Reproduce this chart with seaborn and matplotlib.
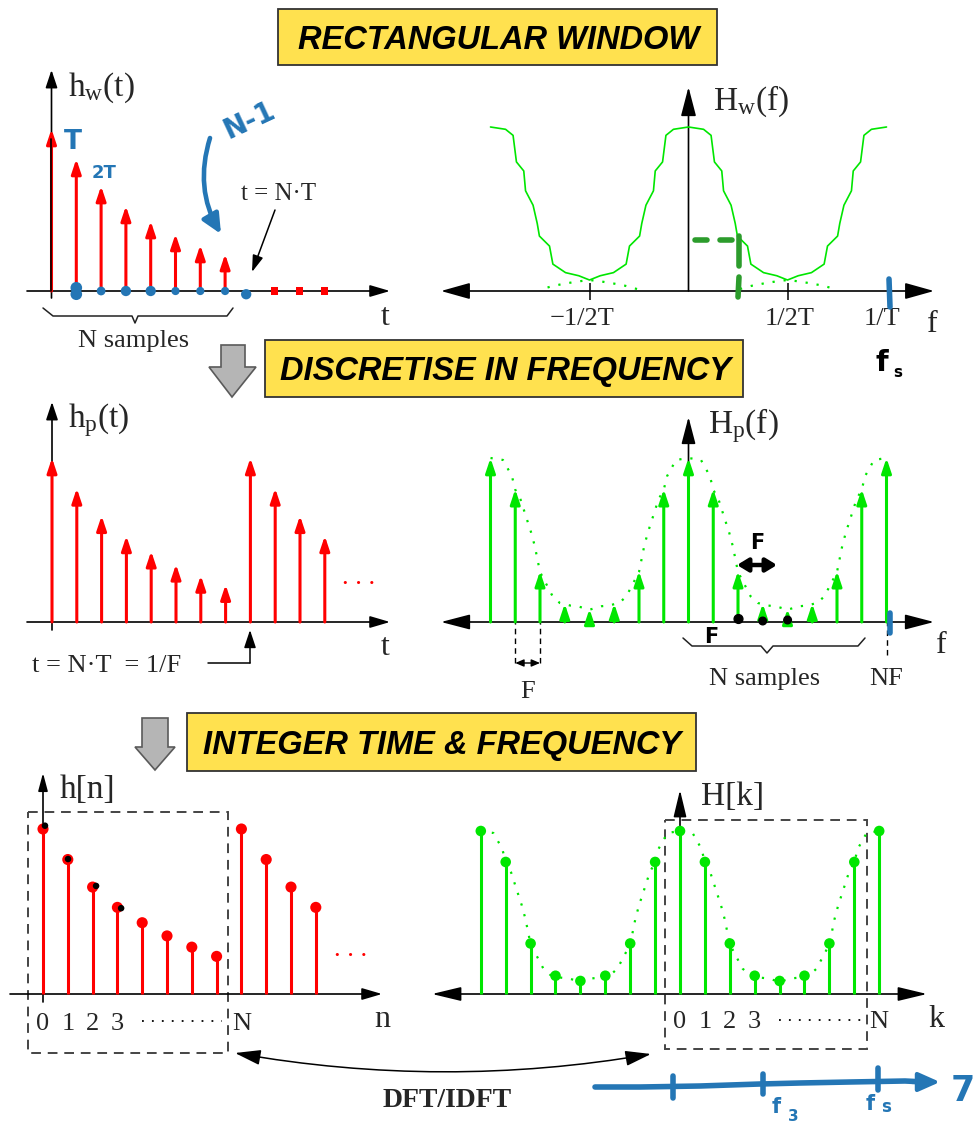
import numpy as np
import pandas as pd
import matplotlib
matplotlib.use("Agg")
import matplotlib.pyplot as plt
import seaborn as sns
from matplotlib.patches import Rectangle, Polygon, FancyArrowPatch

# ---------------- values ----------------
h_idx = [0, 1, 2, 3, 4, 5, 6, 7]
h_vals = [1.0, 0.815, 0.648, 0.525, 0.432, 0.352, 0.284, 0.228]
hw_zero_idx = [9, 10, 11]
hp_idx = list(range(12))
hp_vals = h_vals + h_vals[:4]

# window spectrum |Hw(f)|, one half period, f in units of 1/T
hw_f = [0.0, 0.076, 0.114, 0.131, 0.168, 0.177, 0.215, 0.236, 0.247, 0.298, 0.315, 0.379, 0.446, 0.5]
hw_H = [1.0, 0.986, 0.949, 0.787, 0.732, 0.611, 0.523, 0.412, 0.335, 0.274, 0.164, 0.112, 0.093, 0.067]
# overlapping tails (dotted) around f = 1/2T
tail_f = [0.26, 0.32, 0.38, 0.44, 0.5, 0.56, 0.62, 0.68, 0.74]
tail_H = [0.012, 0.032, 0.046, 0.058, 0.067, 0.058, 0.046, 0.032, 0.012]
# smooth envelope used in the sampled spectra (f in units of 1/T)
env_f = [0.0, 0.063, 0.108, 0.125, 0.152, 0.179, 0.206, 0.224, 0.25, 0.278, 0.314, 0.35, 0.404, 0.44, 0.5]
env_H = [1.0, 0.988, 0.89, 0.807, 0.746, 0.644, 0.543, 0.461, 0.305, 0.24, 0.156, 0.116, 0.1, 0.096, 0.075]
Hk_vals = [1.0, 0.81, 0.31, 0.112, 0.08, 0.112, 0.31, 0.81]
N_SAMPLES = 8
k_idx = list(range(-8, 9))
Hk_full = [Hk_vals[k % N_SAMPLES] for k in k_idx]

hw_ticks = [-0.5, 0.5, 1.0]
hw_tick_labels = ["\u22121/2T", "1/2T", "1/T"]
idx_tick_labels = ["0", "1", "2", "3"]
titles = ["RECTANGULAR WINDOW", "DISCRETISE IN FREQUENCY", "INTEGER TIME & FREQUENCY"]

# ---------------- style ----------------
W, H = 978, 1122
sns.set_theme(style="white")
plt.rcParams["font.family"] = ["Liberation Serif", "DejaVu Serif"]
plt.rcParams["mathtext.fontset"] = "custom"
plt.rcParams["mathtext.rm"] = "Liberation Serif"
plt.rcParams["mathtext.it"] = "Liberation Serif:italic"
RED = "#ff0000"
GREEN = "#00e600"
BLUE = "#2476b5"
DGREEN = "#2c9c2c"
YEL = "#ffe14f"
SERIF = ["Liberation Serif", "DejaVu Serif"]
HAND = ["DejaVu Sans"]
MS = 10
PX = MS * 100 / 72

fig = plt.figure(figsize=(W / 100, H / 100), dpi=100)
fig.patch.set_facecolor("white")


def pix_axes(z):
    a = fig.add_axes([0, 0, 1, 1], zorder=z)
    a.set_xlim(0, W)
    a.set_ylim(H, 0)
    a.set_axis_off()
    return a


ov = pix_axes(0)
limits = {}


def panel(box, x0, dx, y0, dy):
    l, t, r, b = box
    ax = fig.add_axes([l / W, 1 - b / H, (r - l) / W, (b - t) / H], zorder=1)
    limits[ax] = (((l - x0) / dx, (r - x0) / dx), ((y0 - b) / dy, (y0 - t) / dy))
    ax.set_xlim(*limits[ax][0])
    ax.set_ylim(*limits[ax][1])
    ax.set_axis_off()
    return ax


def arrow(ax, p0, p1, hl=15, hw=10, lw=1.2, color="black", style="-|>", rad=0.0, z=5):
    st = f"{style},head_length={hl / PX:.3f},head_width={hw / 2 / PX:.3f}"
    ax.add_patch(FancyArrowPatch(p0, p1, arrowstyle=st, mutation_scale=MS, lw=lw,
                                 color=color, shrinkA=0, shrinkB=0,
                                 connectionstyle=f"arc3,rad={rad}", zorder=z,
                                 clip_on=False))


def stem_arrows(ax, xs, ys, color, lw=2.2, hl=12, hw=8):
    for x, y in zip(xs, ys):
        arrow(ax, (x, 0), (x, y), hl=hl, hw=hw, lw=lw, color=color, z=3)


def otext(ax, x, y, s, size=19, ha="left", va="baseline", family=SERIF, **kw):
    ax.text(x, y, s, fontsize=size, ha=ha, va=va, family=family, **kw)


def periodic(fh, Hh, scale=1.0):
    fh = np.asarray(fh)
    Hh = np.asarray(Hh)
    xs = np.concatenate([-1 + fh, -fh[::-1], fh, 1 - fh[::-1]]) * scale
    ys = np.concatenate([Hh, Hh[::-1], Hh, Hh[::-1]])
    df = pd.DataFrame({"x": np.round(xs, 6), "y": ys}).drop_duplicates("x")
    return df


# ---------------- panels ----------------
ax1 = panel((0, 60, 420, 340), 51.5, 24.8, 291, 162)
ax2 = panel((430, 60, 978, 340), 688.5, 198, 291, 164)
ax3 = panel((0, 395, 420, 700), 52, 24.8, 622, 164)
ax4 = panel((430, 395, 978, 700), 688.5, 24.75, 622, 164)
ax5 = panel((0, 770, 420, 1060), 43, 24.8, 994, 165)
ax6 = panel((430, 770, 978, 1060), 680, 24.9, 994, 163)

# panel 1 : windowed impulse response
stem_arrows(ax1, h_idx, h_vals, RED)
ax1.plot([0, 0], [0, h_vals[0] - 0.06], color="black", lw=1.2, zorder=4)
sns.scatterplot(x=hw_zero_idx, y=[0] * len(hw_zero_idx), marker="s", s=26, color=RED,
                edgecolor="none", ax=ax1, legend=False, zorder=4)

# panel 2 : window spectrum
cw = periodic(hw_f, hw_H)
sns.lineplot(data=cw, x="x", y="y", ax=ax2, color=GREEN, lw=1.2, sort=False, estimator=None)
for sgn in (-1, 1):
    sns.lineplot(x=[sgn * f for f in tail_f], y=tail_H, ax=ax2, color=GREEN, lw=1.6,
                 linestyle=(0, (1, 4)), sort=False, estimator=None)
ax2.vlines(hw_ticks[:2], -9 / 164, 8 / 164, color="black", lw=1.1)
for f, lab, off in zip(hw_ticks, hw_tick_labels, [-0.035, 0.01, -0.025]):
    otext(ax2, f + off, (291 - 325) / 164, lab, ha="center")

# panel 3 : periodic impulse response
stem_arrows(ax3, hp_idx, hp_vals, RED)

# panel 4 : sampled spectrum
ce = periodic(env_f, env_H, scale=N_SAMPLES)
sns.lineplot(data=ce, x="x", y="y", ax=ax4, color=GREEN, lw=1.6, linestyle=(0, (1, 4)),
             sort=False, estimator=None)
stem_arrows(ax4, k_idx, Hk_full, GREEN)
ax4.vlines([-7, -6], -41 / 164, 0, color="black", lw=1.0, linestyles=(0, (4, 3)))
ax4.vlines([8], -33 / 164, 0, color="black", lw=1.0, linestyles=(0, (4, 3)))
arrow(ax4, (-7, -41 / 164), (-6, -41 / 164), hl=7, hw=6, lw=1.0, style="<|-|>")
otext(ax4, -6.5, (622 - 698) / 164, "F", ha="center")
otext(ax4, 8, (622 - 685) / 164, "NF", ha="center")

# panel 5 : h[n]
ax5.vlines(hp_idx, 0, hp_vals, color=RED, lw=2.2, zorder=2)
sns.scatterplot(x=hp_idx, y=hp_vals, s=64, color=RED, edgecolor="none", ax=ax5,
                legend=False, zorder=3)
for i, lab in enumerate(idx_tick_labels):
    otext(ax5, i, (994 - 1030) / 165, lab, ha="center")
otext(ax5, N_SAMPLES, (994 - 1030) / 165, "N", ha="center")

# panel 6 : H[k]
ce6 = periodic(env_f, env_H, scale=N_SAMPLES)
sns.lineplot(data=ce6, x="x", y="y", ax=ax6, color=GREEN, lw=1.6, linestyle=(0, (1, 4)),
             sort=False, estimator=None)
ax6.vlines(k_idx, 0, Hk_full, color=GREEN, lw=2.2, zorder=2)
sns.scatterplot(x=k_idx, y=Hk_full, s=58, color=GREEN, edgecolor="none", ax=ax6,
                legend=False, zorder=3)
for i, lab in enumerate(idx_tick_labels):
    otext(ax6, i, (994 - 1028) / 163, lab, ha="center")
otext(ax6, N_SAMPLES, (994 - 1028) / 163, "N", ha="center")

# ---------------- structure (pixel overlay, beneath) ----------------
boxes = [(278, 9, 717, 65), (265, 340, 743, 397), (187, 713, 696, 771)]
for (l, t, r, b), txt in zip(boxes, titles):
    ov.add_patch(Rectangle((l, t), r - l, b - t, fc=YEL, ec="#333333", lw=1.3))
    ov.text((l + r) / 2 + 1, (t + b) / 2 + 11.5, txt, ha="center", va="baseline",
            fontsize=23.5, fontweight="bold", fontstyle="italic",
            family=["Liberation Sans", "DejaVu Sans"], color="black")

for pts in ([(221, 345), (245, 345), (245, 367), (256, 367), (232, 397), (209, 367), (221, 367)],
            [(142, 718), (168, 718), (168, 747), (175, 747), (155, 770), (135, 747), (142, 747)]):
    ov.add_patch(Polygon(pts, closed=True, fc="#b5b5b5", ec="#5a5a5a", lw=1.2))

# panel 1 axes & labels
arrow(ov, (51.5, 298), (51.5, 70), hl=15, hw=10)
arrow(ov, (27, 291), (390, 291), hl=17, hw=10)
otext(ov, 68, 96, r"$\mathrm{h_w(t)}$", size=24)
otext(ov, 385, 325, "t", size=23, ha="center")
otext(ov, 279, 200, "t = N\u00b7T", size=18, ha="center")
arrow(ov, (275, 210), (252, 272), hl=14, hw=9, lw=1.1)
ov.plot([43, 53, 132, 135, 138, 227, 233], [308, 316, 316, 323, 316, 316, 308], color="#222222", lw=1.1)
otext(ov, 134, 347, "N samples", ha="center")

# panel 2
arrow(ov, (688.5, 291), (688.5, 87), hl=25, hw=13)
arrow(ov, (441, 291), (934, 291), hl=25, hw=14, style="<|-|>")
otext(ov, 713, 110, r"$\mathrm{H_w(f)}$", size=24)
otext(ov, 932, 332, "f", size=23, ha="center")

# panel 3
arrow(ov, (52, 630), (52, 402), hl=15, hw=10)
arrow(ov, (27, 622), (390, 622), hl=17, hw=10)
otext(ov, 68, 427, r"$\mathrm{h_p(t)}$", size=24)
otext(ov, 385, 655, "t", size=23, ha="center")
otext(ov, 342, 584, ". . .", size=19, color=RED)
otext(ov, 32, 672, "t = N\u00b7T  = 1/F", size=19)
ov.plot([208, 250], [663, 663], color="black", lw=1.1)
arrow(ov, (250, 663), (250, 630), hl=15, hw=10, lw=1.1)

# panel 4
arrow(ov, (688.5, 622), (688.5, 417), hl=23, hw=12)
arrow(ov, (441, 622), (934, 622), hl=25, hw=13, style="<|-|>")
otext(ov, 708, 433, r"$\mathrm{H_p(f)}$", size=24)
otext(ov, 941, 653, "f", size=23, ha="center")
ov.plot([683, 692, 761, 767, 773, 858, 865], [638, 646, 646, 653, 646, 646, 638], color="#222222", lw=1.1)
otext(ov, 765, 685, "N samples", ha="center")

# panel 5
arrow(ov, (43, 1002), (43, 773), hl=15, hw=8)
arrow(ov, (10, 994), (382, 994), hl=17, hw=10)
otext(ov, 60, 798, "h[n]", size=24)
otext(ov, 382, 1027, "n", size=23, ha="center")
ov.plot([142, 222], [1021, 1021], color="black", lw=1.3, linestyle=(0, (1, 4.5)))
otext(ov, 334, 956, ". . .", size=19, color=RED)
ov.add_patch(Rectangle((28, 812), 200, 241, fill=False, ec="#444444", lw=1.4, linestyle=(0, (5, 3.5))))

# panel 6
arrow(ov, (680, 994), (680, 790), hl=23, hw=11)
arrow(ov, (432, 994), (927, 994), hl=25, hw=12, style="<|-|>")
otext(ov, 701, 805, "H[k]", size=24)
otext(ov, 936, 1027, "k", size=23, ha="center")
ov.plot([779, 861], [1020, 1020], color="black", lw=1.3, linestyle=(0, (1, 4.5)))
ov.add_patch(Rectangle((665, 820), 202, 229, fill=False, ec="#444444", lw=1.4, linestyle=(0, (5, 3.5))))

# DFT / IDFT
arrow(ov, (235, 1053), (651, 1054), hl=22, hw=13, lw=1.1, style="<|-|>", rad=0.087)
ov.text(447, 1107, "DFT/IDFT", ha="center", va="baseline", fontsize=20, fontweight="bold", family=SERIF)

# ---------------- handwritten annotations (on top) ----------------
top = pix_axes(2)
# panel 1
otext(top, 64, 149, "T", size=19, family=HAND, fontweight="bold", color=BLUE)
otext(top, 92, 178, "2T", size=13, family=HAND, fontweight="bold", color=BLUE)
top.text(250, 120, "N-1", fontsize=20, family=HAND, fontweight="bold", color=BLUE,
         rotation=25, ha="center", va="center")
arrow(top, (210, 138), (221, 234), hl=16, hw=15, lw=3.3, color=BLUE, rad=0.22)
sns.scatterplot(x=[1, 1, 2, 3, 4, 5, 6, 7, 7.85], y=[0.02, -0.02, 0, 0, 0, 0, 0, 0, -0.02],
                s=[70, 70, 40, 55, 55, 35, 35, 35, 55], color=BLUE, edgecolor="none",
                ax=ax1, legend=False, zorder=6)
# panel 2
for xs, ys in (([695, 707], [240, 240]), ([720, 732], [240, 240]),
               ([739, 739], [236, 266]), ([739, 738], [277, 297])):
    top.plot(xs, ys, color=DGREEN, lw=4, solid_capstyle="round")
top.plot([889, 890], [279, 307], color=BLUE, lw=4, solid_capstyle="round")
otext(top, 875, 371, "f", size=21, family=HAND, fontweight="bold", color="black")
otext(top, 893, 377, "s", size=11, family=HAND, fontweight="bold", color="black")
# panel 4
otext(top, 750, 549, "F", size=15, family=HAND, fontweight="bold", color="black")
arrow(top, (737, 565), (777, 565), hl=9, hw=11, lw=3.2, style="<|-|>")
top.scatter([738.5, 762.7, 787.6], [619, 621, 620], s=[40, 30, 30], color="black", zorder=6)
otext(top, 704, 643, "F", size=15, family=HAND, fontweight="bold", color="black")
top.plot([890, 890], [613, 633], color=BLUE, lw=4, solid_capstyle="round")
# panel 5 black blobs on top of the first markers
sns.scatterplot(x=[0.08, 1.01, 2.14, 3.15], y=[1.02, 0.818, 0.655, 0.52], s=22, color="black",
                edgecolor="none", ax=ax5, legend=False, zorder=6)
# bottom blue axis
top.plot([595, 640, 700, 760, 800, 850, 905, 925], [1087, 1087, 1086, 1084, 1083, 1082, 1081, 1082],
         color=BLUE, lw=4, solid_capstyle="round")
arrow(top, (912, 1082), (940, 1082), hl=18, hw=16, lw=3, color=BLUE)
for x, y0, y1 in ((673, 1076, 1098), (763, 1074, 1094), (878, 1068, 1090)):
    top.plot([x, x], [y0, y1], color=BLUE, lw=4, solid_capstyle="round")
otext(top, 772, 1113, "f", size=15, family=HAND, fontweight="bold", color=BLUE)
otext(top, 788, 1121, "3", size=11, family=HAND, fontweight="bold", color=BLUE)
otext(top, 866, 1110, "f", size=15, family=HAND, fontweight="bold", color=BLUE)
otext(top, 881, 1112, "s", size=12, family=HAND, fontweight="bold", color=BLUE)
otext(top, 951, 1101, "7", size=25, family=HAND, fontweight="bold", color=BLUE)

for ax, (xl, yl) in limits.items():
    ax.set_xlim(*xl)
    ax.set_ylim(*yl)
    ax.set_axis_off()

fig.savefig("out.png", dpi=100)
